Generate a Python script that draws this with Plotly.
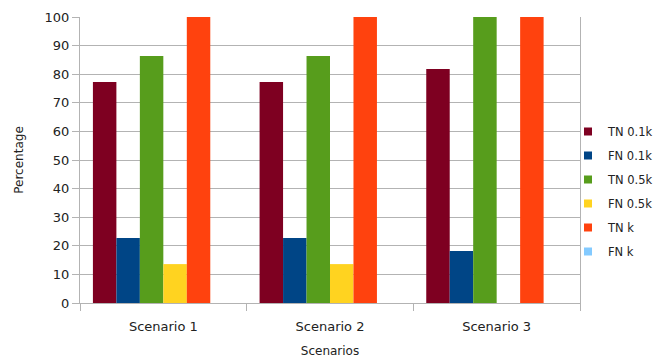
import plotly.graph_objects as go

scenarios = ["Scenario 1", "Scenario 2", "Scenario 3"]
series_names = ["TN 0.1k", "FN 0.1k", "TN 0.5k", "FN 0.5k", "TN k", "FN k"]
tn_01k = [77.3, 77.3, 81.8]
fn_01k = [22.7, 22.7, 18.2]
tn_05k = [86.4, 86.4, 100.0]
fn_05k = [13.6, 13.6, 0.0]
tn_k = [100.0, 100.0, 100.0]
fn_k = [0.0, 0.0, 0.0]
y_ticks = [0, 10, 20, 30, 40, 50, 60, 70, 80, 90, 100]

series_values = [tn_01k, fn_01k, tn_05k, fn_05k, tn_k, fn_k]
colors = ["#7E0021", "#004586", "#579D1C", "#FFD320", "#FF420E", "#83CAFF"]

fig = go.Figure()
for name, vals, col in zip(series_names, series_values, colors):
    fig.add_trace(go.Bar(x=scenarios, y=vals, name=name, marker_color=col,
                         marker_line_width=0, showlegend=False))
# small square legend keys
for name, col in zip(series_names, colors):
    fig.add_trace(go.Scatter(x=[None], y=[None], mode="markers", name=name,
                             marker=dict(symbol="square", size=8, color=col),
                             legendgroup=name, hoverinfo="skip"))

grid = "#b3b3b3"
fig.update_layout(
    width=664, height=360,
    margin=dict(l=80, r=84, t=17, b=57, autoexpand=False),
    paper_bgcolor="white", plot_bgcolor="white",
    font=dict(family="DejaVu Sans", size=12, color="#222"),
    barmode="group", bargap=0.155, bargroupgap=0,
    legend=dict(xref="container", x=568 / 664, xanchor="left",
                yref="container", y=1 - 191.5 / 360, yanchor="middle",
                traceorder="grouped", tracegroupgap=5, itemwidth=30,
                font=dict(size=11.5, color="#222"), bgcolor="rgba(0,0,0,0)"),
    xaxis=dict(showline=True, linecolor=grid, linewidth=1, ticks="outside",
               tickson="boundaries", ticklen=7, tickcolor=grid,
               ticklabelstandoff=11,
               showgrid=False, tickfont=dict(size=13),
               title=dict(text="Scenarios", font=dict(size=12), standoff=14)),
    yaxis=dict(range=[0, 100], tickvals=y_ticks, showline=True, mirror=True,
               linecolor=grid, linewidth=1, ticks="outside", ticklen=7,
               tickcolor=grid, gridcolor=grid, gridwidth=1,
               tickfont=dict(size=13), zeroline=False,
               title=dict(text="Percentage", font=dict(size=12), standoff=18)),
)

fig.write_html("out.html")
